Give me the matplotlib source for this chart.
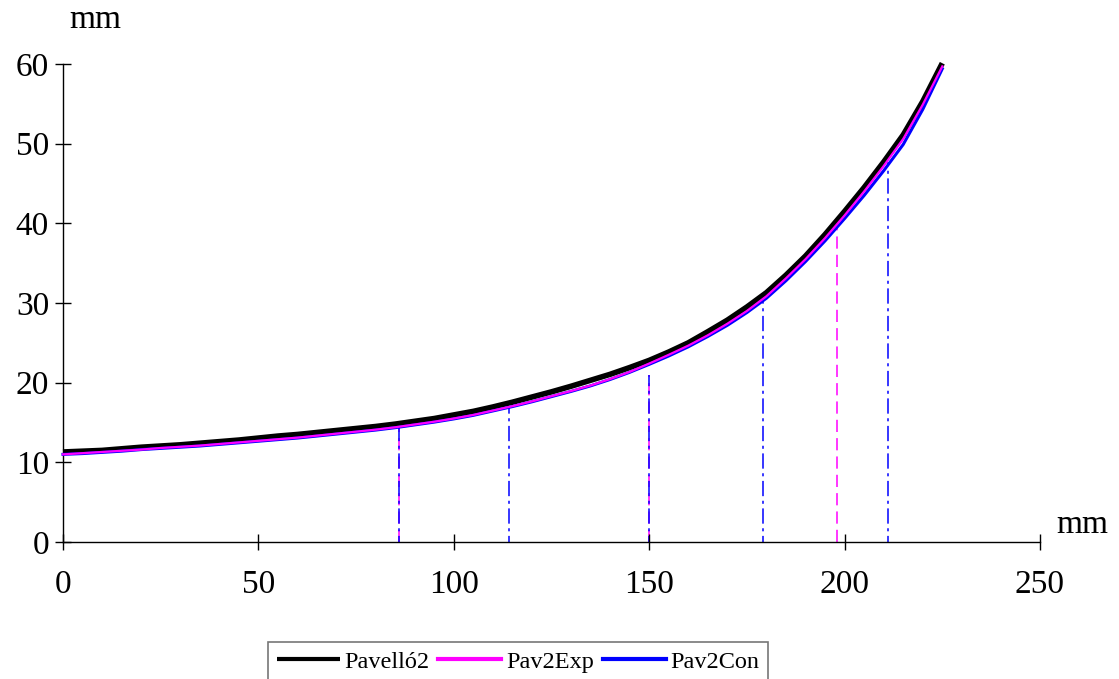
import matplotlib
matplotlib.use("Agg")
import matplotlib.pyplot as plt

plt.rcParams['font.family'] = ['Liberation Serif', 'DejaVu Serif']

# Profile coordinates (mm), sampled every 5 mm
x_mm = [0, 5, 10, 15, 20, 25, 30, 35, 40, 45, 50, 55, 60, 65, 70, 75, 80, 85,
        90, 95, 100, 105, 110, 115, 120, 125, 130, 135, 140, 145, 150, 155,
        160, 165, 170, 175, 180, 185, 190, 195, 200, 205, 210, 215, 220, 225]

y_pav = [11.3, 11.4, 11.5, 11.7, 11.9, 12.05, 12.2, 12.4, 12.6, 12.8, 13.05,
         13.3, 13.5, 13.75, 14.0, 14.25, 14.5, 14.8, 15.15, 15.5, 15.95, 16.4,
         16.95, 17.55, 18.2, 18.85, 19.55, 20.3, 21.05, 21.9, 22.8, 23.85, 25.0,
         26.4, 27.85, 29.5, 31.3, 33.5, 35.9, 38.6, 41.5, 44.5, 47.7, 51.1,
         55.3, 60.1]

y_exp = [11.0, 11.15, 11.3, 11.45, 11.6, 11.8, 11.95, 12.1, 12.3, 12.5, 12.7,
         12.9, 13.1, 13.35, 13.6, 13.85, 14.1, 14.4, 14.75, 15.1, 15.5, 15.95,
         16.5, 17.05, 17.65, 18.3, 18.95, 19.65, 20.45, 21.35, 22.4, 23.5, 24.65,
         25.95, 27.4, 29.0, 30.85, 33.1, 35.5, 38.15, 41.0, 44.0, 47.2, 50.6,
         54.9, 59.7]

y_con = [11.0, 11.1, 11.25, 11.4, 11.6, 11.75, 11.9, 12.05, 12.25, 12.45,
         12.65, 12.85, 13.05, 13.3, 13.55, 13.8, 14.05, 14.35, 14.7, 15.05,
         15.45, 15.9, 16.45, 17.0, 17.6, 18.25, 18.9, 19.6, 20.4, 21.3, 22.3,
         23.35, 24.5, 25.8, 27.2, 28.8, 30.6, 32.8, 35.2, 37.8, 40.6, 43.5,
         46.6, 49.9, 54.3, 59.4]

# Reference verticals (position, height) for each fitted curve
exp_marks_x = [86, 150, 198]
exp_marks_y = [14.4, 21.0, 41.3]
con_marks_x = [86, 114, 150, 179, 211]
con_marks_y = [14.4, 16.9, 21.0, 30.3, 47.7]

series_names = ['Pavelló2', 'Pav2Exp', 'Pav2Con']
x_ticks = [0, 50, 100, 150, 200, 250]
y_ticks = [0, 10, 20, 30, 40, 50, 60]

fig = plt.figure(figsize=(11.19, 6.79), dpi=100)
ax = fig.add_axes([63 / 1119, 1 - 542 / 679, (1040 - 63) / 1119, (542 - 64) / 679])

ax.vlines(exp_marks_x, 0, exp_marks_y, colors='#ff00ff', linewidth=1.1,
          linestyles=(0, (8, 4)), zorder=1)
ax.vlines(con_marks_x, 0, con_marks_y, colors='#0000ff', linewidth=1.1,
          linestyles=(6, (10, 3, 2, 3)), zorder=1)

l1, = ax.plot(x_mm, y_pav, color='black', linewidth=4.0, solid_capstyle='butt',
              clip_on=False, zorder=3)
l3, = ax.plot(x_mm, y_con, color='#0000ff', linewidth=2.2, clip_on=False, zorder=4)
l2, = ax.plot(x_mm, y_exp, color='#ff00ff', linewidth=1.6, clip_on=False, zorder=5)

ax.set_xlim(0, 250)
ax.set_ylim(0, 60)
ax.set_xticks(x_ticks)
ax.set_yticks(y_ticks)
ax.spines['top'].set_visible(False)
ax.spines['right'].set_visible(False)
for s in ('left', 'bottom'):
    ax.spines[s].set_linewidth(1.0)
ax.tick_params(axis='both', direction='inout', length=12, width=1.0,
               labelsize=24, colors='black')
ax.tick_params(axis='x', pad=14)
ax.tick_params(axis='y', pad=4)

fig.text(95 / 1119, 1 - 20 / 679, 'mm', fontsize=24, ha='center', va='center')
fig.text(1082 / 1119, 1 - 525 / 679, 'mm', fontsize=24, ha='center', va='center')

leg = fig.legend([l1, l2, l3], series_names, loc='upper left',
                 bbox_to_anchor=(268 / 1119, 1 - 642 / 679), ncol=3,
                 fontsize=17.5, frameon=True, fancybox=False, handlelength=2.6,
                 handletextpad=0.2, columnspacing=0.35, borderpad=0.35,
                 borderaxespad=0)
leg.get_frame().set_edgecolor('#555555')
leg.get_frame().set_linewidth(1.2)
for h in leg.get_lines():
    h.set_linewidth(3.0)

fig.savefig('out.png', dpi=100)
